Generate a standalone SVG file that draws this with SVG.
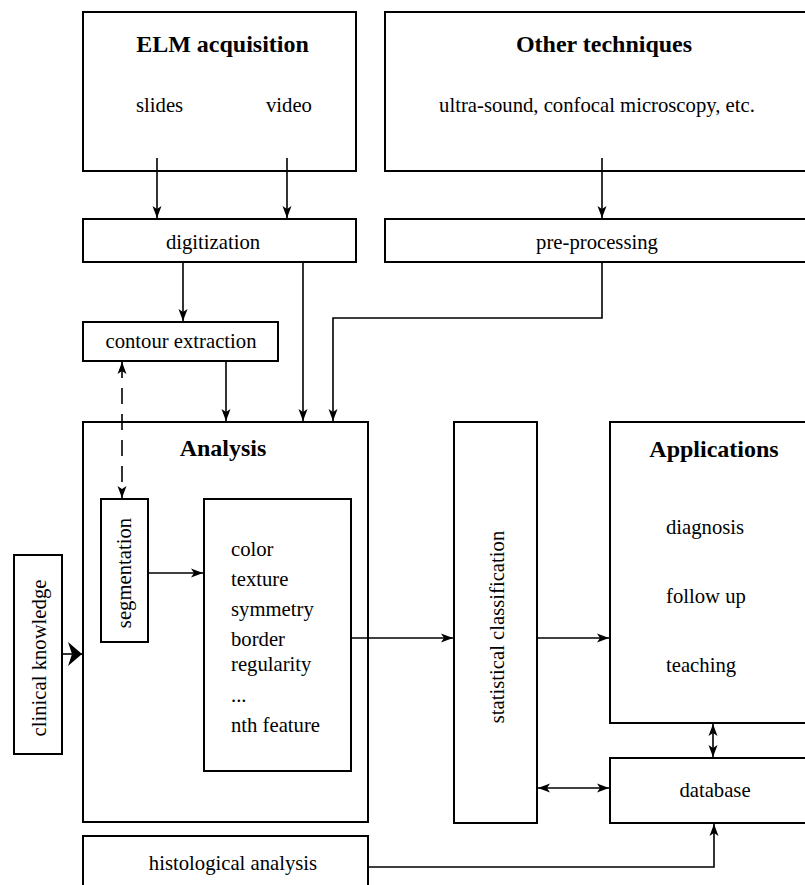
<svg xmlns="http://www.w3.org/2000/svg" width="805" height="885" viewBox="0 0 805 885">
<defs>
<style>
.box{fill:#fff;stroke:#000;stroke-width:2}
.t{font-family:"Liberation Serif","Times New Roman",serif;font-size:20.7px;fill:#000}
.b{font-family:"Liberation Serif","Times New Roman",serif;font-size:24px;font-weight:bold;fill:#000}
.c{text-anchor:middle}
.ln{fill:none;stroke:#000;stroke-width:1.6}
.arr{marker-end:url(#ah)}
.arr2{marker-start:url(#ah);marker-end:url(#ah)}
</style>
<marker id="ah" markerUnits="userSpaceOnUse" markerWidth="16" markerHeight="12" viewBox="-13 -6 14 12" refX="0" refY="0" orient="auto-start-reverse">
<path d="M0,0 L-12,-4.5 L-9,0 L-12,4.5 Z" fill="#000"/>
</marker>
<marker id="big" markerUnits="userSpaceOnUse" markerWidth="16" markerHeight="28" viewBox="-15 -14 16 28" refX="0" refY="0" orient="auto">
<path d="M0,0 L-14,-12 L-10,0 L-14,12 Z" fill="#000"/>
</marker>
</defs>
<g id="elm">
<rect class="box" x="83" y="12" width="273" height="159"/>
<text class="b c" x="222.5" y="52">ELM acquisition</text>
<text class="t" x="136" y="112">slides</text>
<text class="t" x="266" y="112">video</text>
</g>
<g id="other">
<rect class="box" x="385" y="12" width="440" height="159"/>
<text class="b c" x="604" y="52">Other techniques</text>
<text class="t c" x="597" y="112">ultra-sound, confocal microscopy, etc.</text>
</g>
<g id="digitization">
<rect class="box" x="83" y="219" width="273" height="43"/>
<text class="t c" x="213" y="249">digitization</text>
</g>
<g id="preprocessing">
<rect class="box" x="385" y="219" width="440" height="43"/>
<text class="t c" x="597" y="249">pre-processing</text>
</g>
<g id="contour">
<rect class="box" x="83" y="322" width="195" height="39"/>
<text class="t c" x="181" y="348">contour extraction</text>
</g>
<g id="analysis">
<rect class="box" x="83" y="422" width="285" height="400"/>
<text class="b c" x="223" y="456">Analysis</text>
</g>
<g id="segmentation">
<rect class="box" x="101" y="499" width="47" height="143"/>
<text class="t c" transform="translate(131,573) rotate(-90)">segmentation</text>
</g>
<g id="features">
<rect class="box" x="204" y="499" width="147" height="272"/>
<text class="t" x="231" y="556">color</text>
<text class="t" x="231" y="586">texture</text>
<text class="t" x="231" y="616">symmetry</text>
<text class="t" x="231" y="646">border</text>
<text class="t" x="231" y="671">regularity</text>
<text class="t" x="231" y="702">...</text>
<text class="t" x="231" y="732">nth feature</text>
</g>
<g id="clinical">
<rect class="box" x="14" y="555" width="48" height="199"/>
<text class="t c" transform="translate(46,658) rotate(-90)">clinical knowledge</text>
</g>
<g id="statistical">
<rect class="box" x="454" y="422" width="83" height="401"/>
<text class="t c" transform="translate(504,627) rotate(-90)">statistical classification</text>
</g>
<g id="applications">
<rect class="box" x="610" y="422" width="215" height="301"/>
<text class="b c" x="714" y="457">Applications</text>
<text class="t" x="666" y="534">diagnosis</text>
<text class="t" x="666" y="603">follow up</text>
<text class="t" x="666" y="672">teaching</text>
</g>
<g id="database">
<rect class="box" x="610" y="758" width="215" height="65"/>
<text class="t c" x="715" y="797">database</text>
</g>
<g id="histological">
<rect class="box" x="83" y="836" width="285" height="70"/>
<text class="t c" x="233" y="870">histological analysis</text>
</g>
<g id="connectors">
<line class="ln arr" x1="157" y1="158" x2="157" y2="218"/>
<line class="ln arr" x1="287" y1="158" x2="287" y2="218"/>
<line class="ln arr" x1="602" y1="158" x2="602" y2="218"/>
<line class="ln arr" x1="183" y1="263" x2="183" y2="321"/>
<line class="ln arr" x1="303" y1="263" x2="303" y2="421"/>
<polyline class="ln arr" points="602,263 602,318 333,318 333,421"/>
<line class="ln arr" x1="226" y1="362" x2="226" y2="421"/>
<line class="ln arr2" x1="122" y1="362" x2="122" y2="498" stroke-dasharray="16,10"/>
<line class="ln arr" x1="149" y1="573" x2="203" y2="573"/>
<line class="ln" x1="63" y1="654" x2="82" y2="654" marker-end="url(#big)"/>
<line class="ln arr" x1="352" y1="638" x2="453" y2="638"/>
<line class="ln arr" x1="538" y1="638" x2="609" y2="638"/>
<line class="ln arr2" x1="538" y1="788" x2="609" y2="788"/>
<line class="ln arr2" x1="713" y1="724" x2="713" y2="757"/>
<polyline class="ln arr" points="369,867 714,867 714,824"/>
</g>
</svg>
